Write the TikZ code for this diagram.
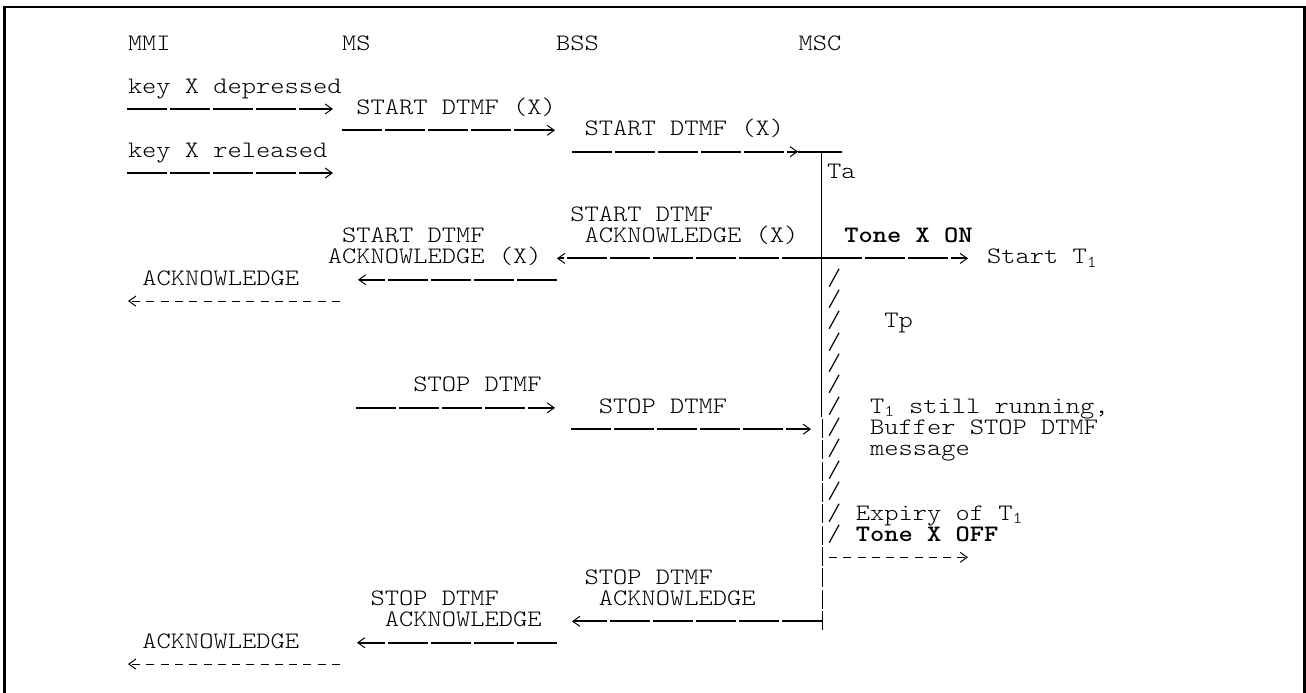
\documentclass[tikz,border=0pt]{standalone}
\usepackage{fontspec}
\newfontfamily\cour{lmmonolt10-regular.otf}[FakeStretch=1.15, BoldFont=lmmonolt10-bold.otf]
\usetikzlibrary{arrows.meta}
\tikzset{
  lbl/.style={anchor=base west, inner sep=0pt, outer sep=0pt, font=\cour\fontsize{23.6}{26}\selectfont},
  blbl/.style={lbl, font=\cour\fontsize{23.6}{26}\selectfont\bfseries},
  msg/.style={line width=2pt, dash pattern=on 40pt off 3pt},
  note/.style={line width=1pt, dash pattern=on 8pt off 6.27pt},
  tipr/.style={-{Straight Barb[length=7pt,width=10pt,line width=1pt]}},
  life/.style={line width=1.3pt},
  frame/.style={line width=2.5pt}
}
\begin{document}
\begin{tikzpicture}[x=1pt,y=-1pt,
  declare function={cx(\c)=128+\c*14.27; ry(\r)=50.3+\r*21.35; ly(\r)=50.3+\r*21.35-5.4;}]
\useasboundingbox (0,0) rectangle (1306,693);
% frame
\coordinate (f1) at (4.5,693); \coordinate (f2) at (4.5,7);
\coordinate (f3) at (1304.5,7); \coordinate (f4) at (1304.5,693);
\draw[frame] (f1) -- (f2) -- (f3) -- (f4);

% headers
\node[lbl] (hMMI) at ({cx(0)},{ry(0)}) {MMI};
\node[lbl] (hMS)  at ({cx(15)},{ry(0)}) {MS};
\node[lbl] (hBSS) at ({cx(30)},{ry(0)}) {BSS};
\node[lbl] (hMSC) at ({cx(47)},{ry(0)}) {MSC};

% texts
\node[lbl] (t1)  at ({cx(0)},{ry(2)}) {key X depressed};
\node[lbl] (t2)  at ({cx(16)},{ry(3)}) {START DTMF (X)};
\node[lbl] (t3)  at ({cx(32)},{ry(4)}) {START DTMF (X)};
\node[lbl] (t4)  at ({cx(0)},{ry(5)}) {key X released};
\node[lbl] (ta)  at ({cx(49)},{ry(6)}) {Ta};
\node[lbl] (t5)  at ({cx(31)},{ry(8)}) {START DTMF};
\node[lbl] (t6)  at ({cx(32)},{ry(9)}) {ACKNOWLEDGE (X)};
\node[lbl] (t7)  at ({cx(15)},{ry(9)}) {START DTMF};
\node[lbl] (t8)  at ({cx(14)},{ry(10)}) {ACKNOWLEDGE (X)};
\node[blbl] (ton) at ({cx(50.2)},{ry(9)}) {Tone X ON};
\node[lbl] (st1) at ({cx(60.2)},{ry(10)}) {Start T\textsubscript{1}};
\node[lbl] (t9)  at ({cx(1)},{ry(11)}) {ACKNOWLEDGE};
\node[lbl] (tp)  at ({cx(53)},{ry(13)}) {Tp};
\node[lbl] (t10) at ({cx(20)},{ry(16)}) {STOP DTMF};
\node[lbl] (t11) at ({cx(33)},{ry(17)}) {STOP DTMF};
\node[lbl] (n1)  at ({cx(52)},{ry(17)}) {T\textsubscript{1} still running,};
\node[lbl] (n2)  at ({cx(52)},{ry(18)}) {Buffer STOP DTMF};
\node[lbl] (n3)  at ({cx(52)},{ry(19)}) {message};
\node[lbl] (ex)  at ({cx(51)},{ry(22)}) {Expiry of T\textsubscript{1}};
\node[blbl] (toff) at ({cx(51)},{ry(23)}) {Tone X OFF};
\node[lbl] (t12) at ({cx(32)},{ry(25)}) {STOP DTMF};
\node[lbl] (t13) at ({cx(33)},{ry(26)}) {ACKNOWLEDGE};
\node[lbl] (t14) at ({cx(17)},{ry(26)}) {STOP DTMF};
\node[lbl] (t15) at ({cx(18)},{ry(27)}) {ACKNOWLEDGE};
\node[lbl] (t16) at ({cx(1)},{ry(28)}) {ACKNOWLEDGE};

% slashes (timer Tp)
\foreach \r in {11,...,23} {
  \node[lbl] (sl\r) at ({cx(49)},{ry(\r)}) {/};
}

% MSC lifeline / timer Ta
\coordinate (v1) at (821.5,{ly(5)});
\coordinate (v2) at (821.5,417);
\coordinate (v3) at (822.5,419);
\coordinate (v4) at (822.5,631);
\draw[life] (v1) -- (v2);
\draw[life, dash pattern=on 19pt off 2.35pt] (v3) -- (v4);
\coordinate (b1) at (798,{ly(5)});
\coordinate (b2) at (842,{ly(5)});
\draw[line width=2pt] (b1) -- (b2);

% arrows
\coordinate (a1s) at (127,{ly(3)});  \coordinate (a1e) at (333,{ly(3)});
\coordinate (a2s) at (342,{ly(4)});  \coordinate (a2e) at (555,{ly(4)});
\coordinate (a3s) at (572,{ly(5)});  \coordinate (a3e) at (798,{ly(5)});
\coordinate (a4s) at (127,{ly(6)});  \coordinate (a4e) at (333,{ly(6)});
\coordinate (a5s) at (821.5,{ly(10)}); \coordinate (a5e) at (557,{ly(10)});
\coordinate (a6s) at (821.5,{ly(10)}); \coordinate (a6e) at (968,{ly(10)});
\coordinate (a7s) at (557,{ly(11)}); \coordinate (a7e) at (358,{ly(11)});
\coordinate (a8s) at (340,{ly(12)}); \coordinate (a8e) at (128,{ly(12)});
\coordinate (a9s) at (356,{ly(17)}); \coordinate (a9e) at (555,{ly(17)});
\coordinate (a10s) at (571,{ly(18)}); \coordinate (a10e) at (811,{ly(18)});
\coordinate (a11s) at (829,{ly(24)}); \coordinate (a11e) at (968,{ly(24)});
\coordinate (a12s) at (821.5,{ly(27)}); \coordinate (a12e) at (572,{ly(27)});
\coordinate (a13s) at (557,{ly(28)}); \coordinate (a13e) at (357,{ly(28)});
\coordinate (a14s) at (340,{ly(29)}); \coordinate (a14e) at (128,{ly(29)});

\draw[msg,tipr] (a1s) -- (a1e);
\draw[msg,tipr] (a2s) -- (a2e);
\draw[msg,tipr] (a3s) -- (a3e);
\draw[msg,tipr] (a4s) -- (a4e);
\draw[msg,tipr] (a5s) -- (a5e);
\draw[msg,tipr] (a6s) -- (a6e);
\draw[msg,tipr] (a7s) -- (a7e);
\draw[note,tipr] (a8s) -- (a8e);
\draw[msg,tipr] (a9s) -- (a9e);
\draw[msg,tipr] (a10s) -- (a10e);
\draw[note,tipr] (a11s) -- (a11e);
\draw[msg,tipr] (a12s) -- (a12e);
\draw[msg,tipr] (a13s) -- (a13e);
\draw[note,tipr] (a14s) -- (a14e);
\end{tikzpicture}
\end{document}
